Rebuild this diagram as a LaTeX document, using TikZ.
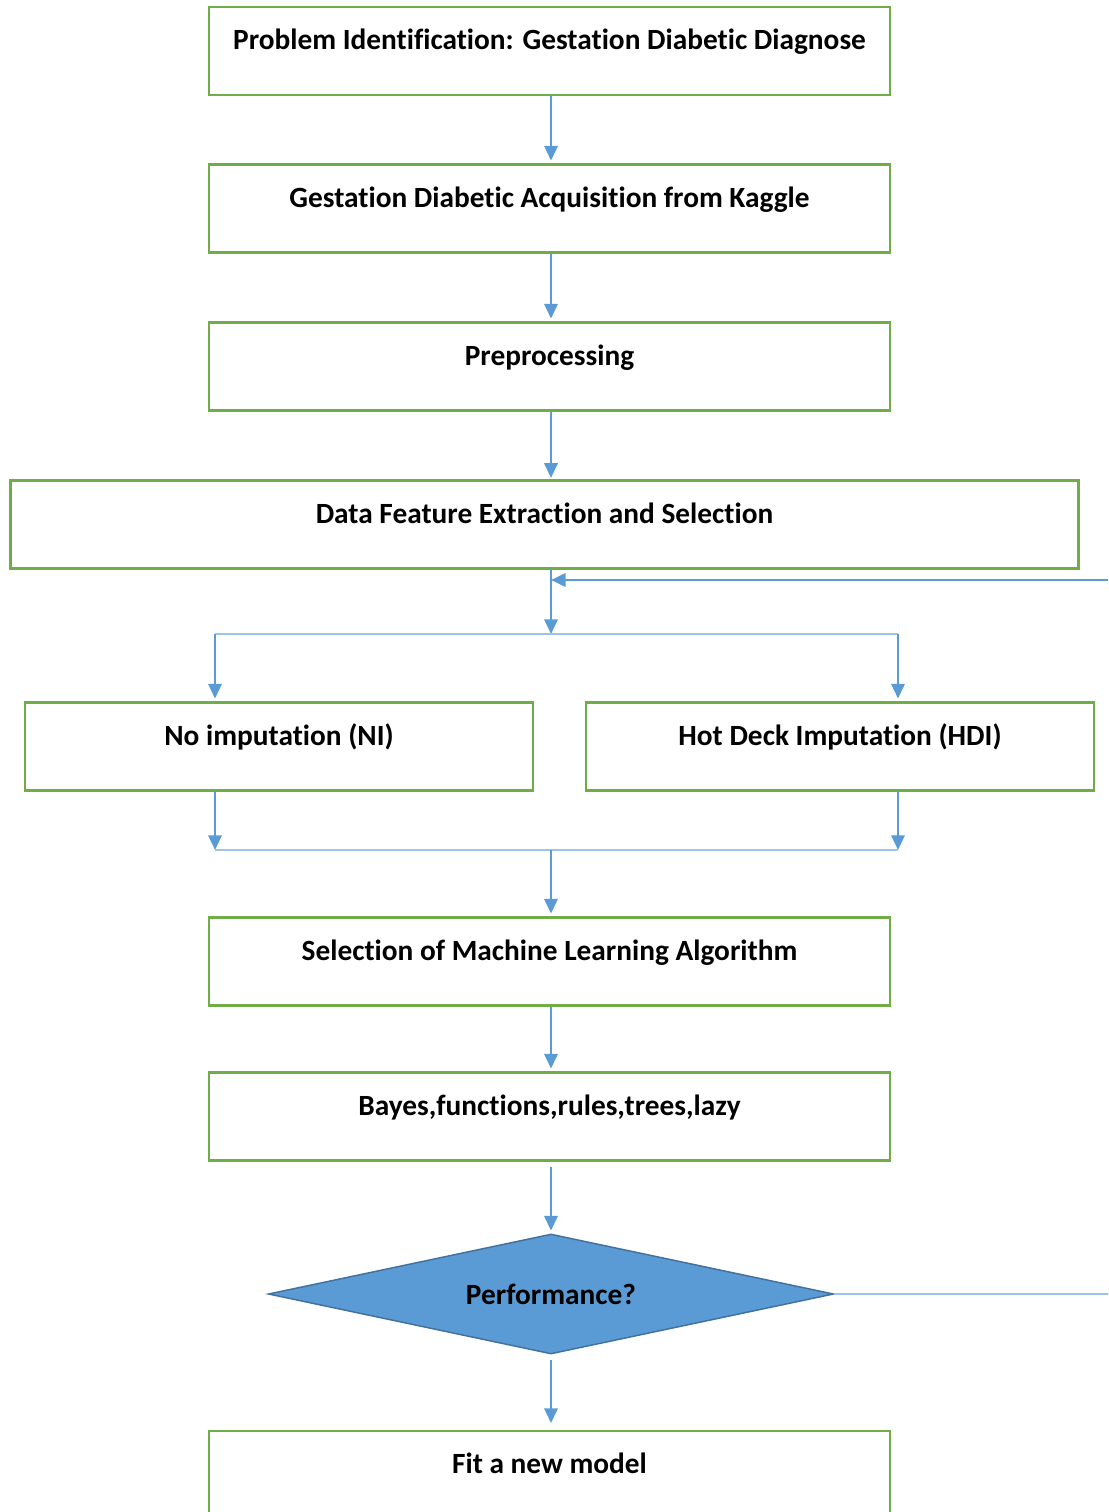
\documentclass[tikz,border=0pt]{standalone}
\usepackage{fontspec}
\setmainfont{Carlito}[Ligatures=NoCommon]
\usetikzlibrary{arrows.meta,shapes.geometric}
\definecolor{boxgreen}{HTML}{70AD47}
\definecolor{flowblue}{HTML}{5B9BD5}
\definecolor{lineblue}{HTML}{9DC3E6}
\definecolor{edgeblue}{HTML}{41719C}
\tikzset{
  stepbox/.style={draw=boxgreen, line width=1.9pt, inner sep=0pt, minimum width=511pt,
    text height=32pt, text depth=34pt, font=\fontsize{22}{26}\selectfont\bfseries},
  flow/.style={draw=flowblue, line width=1.7pt, -{Triangle[length=11pt,width=10pt]}},
  branch/.style={draw=lineblue, line width=1pt},
}

\begin{document}
\begin{tikzpicture}[x=0.75pt,y=-0.75pt]
		%%%%% START %%%%%
		\useasboundingbox (0,0) rectangle (1108,1512);
		\clip (0,0) rectangle (1108,1512);
		
		\node[stepbox] (prob) at (549.5,51) {Problem Identification: Gestation Diabetic Diagnose};
		\node[stepbox] (kaggle) at (549.5,208.5) {Gestation Diabetic Acquisition from Kaggle};
		\node[stepbox] (prep) at (549.5,366.5) {Preprocessing};
		\node[stepbox, minimum width=801pt] (feat) at (544.5,524.5) {Data Feature Extraction and Selection};
		
		\node[stepbox, minimum width=381pt] (noimp) at (279,746.5) {No imputation (NI)};
		\node[stepbox, minimum width=381pt] (hdi) at (840,746.5) {Hot Deck Imputation (HDI)};
		
		\node[stepbox] (mlsel) at (549.5,961.5) {Selection of Machine Learning Algorithm};
		\node[stepbox] (algos) at (549.5,1116.5) {Bayes,functions,rules,trees,lazy};
		\node[diamond, shape aspect=4.7, draw=edgeblue, fill=flowblue, line width=1.1pt, inner sep=0pt,
			minimum width=424pt, minimum height=90pt, font=\fontsize{22}{26}\selectfont\bfseries] (perf) at (551,1294) {Performance?};
		\node[stepbox] (fit) at (549.5,1475) {Fit a new model};
		
		\coordinate (fbk) at (551,580);
		\coordinate (splitL) at (215,634);
		\coordinate (splitM) at (551,634);
		\coordinate (splitR) at (898,634);
		\coordinate (joinL) at (215,850);
		\coordinate (joinM) at (551,850);
		\coordinate (joinR) at (898,850);
		\coordinate (edgeB) at (1140,1294);
		\coordinate (edgeT) at (1140,580);
		
		\draw[flow, shorten >=2pt] (prob.south -| fbk) -- (kaggle.north -| fbk);
		\draw[flow, shorten >=2pt] (kaggle.south -| fbk) -- (prep.north -| fbk);
		\draw[flow, shorten >=1pt] (prep.south -| fbk) -- (feat.north -| fbk);
		\draw[flow] (feat.south -| fbk) -- (splitM);
		
		\draw[branch] (splitL) -- (splitR);
		\draw[flow, shorten >=2pt] (splitL) -- (splitL |- noimp.north);
		\draw[flow, shorten >=2pt] (splitR) -- (splitR |- hdi.north);
		
		\draw[flow] (noimp.south -| splitL) -- (joinL);
		\draw[flow] (hdi.south -| splitR) -- (joinR);
		\draw[branch] (joinL) -- (joinR);
		\draw[flow, shorten >=2pt] (joinM) -- (mlsel.north -| fbk);
		
		\draw[flow, shorten >=2pt] (mlsel.south -| fbk) -- (algos.north -| fbk);
		\draw[flow, shorten <=4pt, shorten >=2pt] (algos.south -| fbk) -- (perf.north);
		\draw[flow, shorten <=4pt, shorten >=5pt] (perf.south) -- (fit.north -| perf.south);
		
		\draw[branch] (perf.east) -- (edgeB) -- (edgeT);
		\draw[flow, line width=2pt] (edgeT) -- (fbk);
		%%%%% END %%%%%
\end{tikzpicture}
\end{document}
